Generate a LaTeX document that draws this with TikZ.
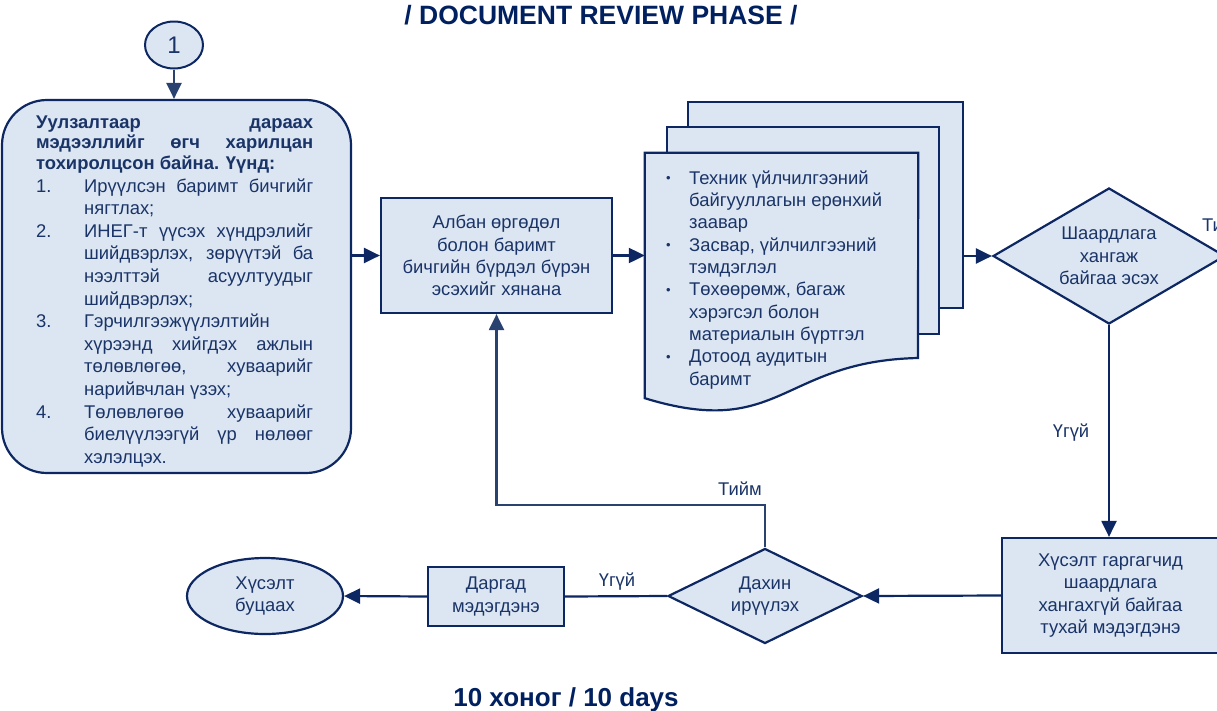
\documentclass[tikz,border=0pt]{standalone}
\usepackage{fontspec}
\setmainfont{Liberation Sans}
\usetikzlibrary{shapes.geometric,arrows.meta}
\definecolor{navyline}{HTML}{0D2763}
\definecolor{softline}{HTML}{2A4270}
\definecolor{boxfill}{HTML}{DCE6F2}
\definecolor{txt}{HTML}{1A3468}
\definecolor{ttl}{HTML}{002060}
\newcommand\bodyf{\fontsize{18.4}{22.3}\selectfont}
\newcommand\bul{\makebox[20pt][l]{\hspace*{-3pt}\fontsize{13}{13}\selectfont\raisebox{1.5pt}{•}}}
\newcommand\jline[2]{\makebox[#1][s]{#2}}
\begin{document}
\begin{tikzpicture}[x=1pt,y=-1pt,
  box/.style={draw=navyline, line width=2.2pt, fill=boxfill, text=txt, font=\bodyf, align=center, inner sep=0},
  arr/.style={draw=navyline, line width=2.2pt, -{Triangle[length=16pt,width=15pt]}},
  plain/.style={draw=navyline, line width=2.2pt},
  lbl/.style={text=txt, font=\bodyf, inner sep=0}
]
\useasboundingbox (0,0) rectangle (1217,710);
\clip (0,0) rectangle (1217,710);

% titles
\node[anchor=base, font=\fontsize{26.5}{30}\selectfont\bfseries, text=ttl, inner sep=0] (title) at (601,24.5) {/ DOCUMENT REVIEW PHASE /};
\node[anchor=base, font=\fontsize{26}{30}\selectfont\bfseries, text=ttl, inner sep=0] (days) at (566,706.5) {10 хоног / 10 days};

% start circle
\node[ellipse, draw=navyline, line width=2pt, fill=boxfill, minimum width=58pt, minimum height=47pt, inner sep=0, font=\fontsize{24}{24}\selectfont, text=txt] (c1) at (174,45) {1};

% left rounded box
\node[box, rounded corners=45pt, minimum width=349pt, minimum height=373pt] (req) at (176.5,286.5) {};
\node[anchor=north west, inner sep=0, align=left, text=txt, font=\fontsize{18.4}{22.6}\selectfont] (reqtext) at (36,115.5) {%
\textbf{\jline{277pt}{Уулзалтаар дараах}}\\[-2pt]
\textbf{\jline{277pt}{мэдээллийг өгч харилцан}}\\[-2pt]
\textbf{тохиролцсон байна. Үүнд:}\\
\makebox[48pt][l]{1.}\jline{229pt}{Ирүүлсэн баримт бичгийг}\\
\hspace*{48pt}нягтлах;\\
\makebox[48pt][l]{2.}\jline{229pt}{ИНЕГ-т үүсэх хүндрэлийг}\\
\hspace*{48pt}\jline{229pt}{шийдвэрлэх, зөрүүтэй ба}\\
\hspace*{48pt}\jline{229pt}{нээлттэй асуултуудыг}\\
\hspace*{48pt}шийдвэрлэх;\\
\makebox[48pt][l]{3.}Гэрчилгээжүүлэлтийн\\
\hspace*{48pt}\jline{229pt}{хүрээнд хийгдэх ажлын}\\
\hspace*{48pt}\jline{229pt}{төлөвлөгөө, хуваарийг}\\
\hspace*{48pt}нарийвчлан үзэх;\\
\makebox[48pt][l]{4.}\jline{229pt}{Төлөвлөгөө хуваарийг}\\
\hspace*{48pt}\jline{229pt}{биелүүлээгүй үр нөлөөг}\\
\hspace*{48pt}хэлэлцэх.};

% review box
\node[box, minimum width=231pt, minimum height=115pt] (review) at (496.5,255.5) {Албан өргөдөл\\болон баримт\\бичгийн бүрдэл бүрэн\\эсэхийг хянана};

% document stack
\node[box, minimum width=275pt, minimum height=206pt] (back) at (825.5,205) {};
\node[box, minimum width=272pt, minimum height=207pt] (midpage) at (803,230.5) {};
\node[minimum width=273pt, minimum height=245pt, inner sep=0] (front) at (781.5,275.5) {};
\coordinate (frontwave) at (918,358);
\draw[plain, fill=boxfill] (front.south west) -- (front.north west) -- (front.north east) -- (frontwave) .. controls (781,361) and (781,440) .. (front.south west) -- cycle;
\node[anchor=north west, inner sep=0, align=left, text=txt, font=\bodyf] (fronttext) at (669,170.5) {%
\bul Техник үйлчилгээний\\
\hspace*{20pt}байгууллагын ерөнхий\\
\hspace*{20pt}заавар\\
\bul Засвар, үйлчилгээний\\
\hspace*{20pt}тэмдэглэл\\
\bul Төхөөрөмж, багаж\\
\hspace*{20pt}хэрэгсэл болон\\
\hspace*{20pt}материалын бүртгэл\\
\bul Дотоод аудитын\\
\hspace*{20pt}баримт};

% decisions and other boxes
\node[box, diamond, aspect=1.7, minimum width=232pt, minimum height=136pt] (dia1) at (1109,256) {Шаардлага\\хангаж\\байгаа эсэх};
\node[box, minimum width=217pt, minimum height=115pt] (notify) at (1110.5,595.5) {Хүсэлт гаргагчид\\шаардлага\\хангахгүй байгаа\\тухай мэдэгдэнэ};
\node[box, diamond, aspect=2, minimum width=194pt, minimum height=95pt] (dia2) at (765,596) {Дахин\\ирүүлэх};
\node[box, minimum width=136pt, minimum height=59pt] (report) at (496,596.5) {Даргад\\мэдэгдэнэ};
\node[box, ellipse, minimum width=156pt, minimum height=76pt] (ret) at (265,596) {Хүсэлт\\буцаах};

% connectors
\draw[arr, draw=softline] (c1.south) -- (c1.south |- req.north);
\draw[arr] (req.east |- review.west) -- (review.west);
\draw[arr] (review.east) -- (review.east -| front.west);
\draw[arr] (back.east |- dia1.west) -- (dia1.west);
\draw[arr] (dia1.south) -- (dia1.south |- notify.north);
\draw[arr] (notify.west) -- (dia2.east);
\draw[plain] (dia2.west) -- (report.east);
\draw[arr] (report.west) -- (ret.east);
\coordinate (loop) at (496,505);
\draw[arr, draw=softline] (dia2.north) |- (review.south |- loop) -- (review.south);

% labels
\node[lbl] (yes1) at (740,489) {Тийм};
\node[lbl] (no2) at (617,582) {Үгүй};
\node[lbl] (no1) at (1071,433) {Үгүй};
\node[lbl, anchor=west] (yes2) at (1202,225) {Тийм};
\end{tikzpicture}
\end{document}
